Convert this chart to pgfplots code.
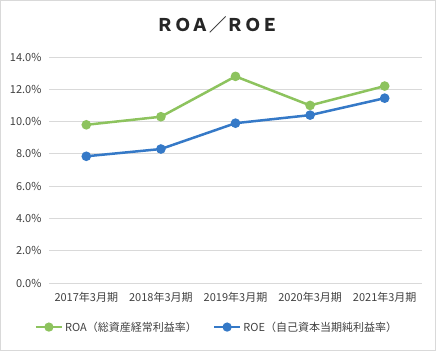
\documentclass[border=0pt]{standalone}
\usepackage{fontspec}
\setmainfont{Noto Sans CJK JP}
\usepackage{pgfplots}
\pgfplotsset{compat=1.18}
\definecolor{roagreen}{HTML}{8DC35E}
\definecolor{roeblue}{HTML}{3579C7}
\definecolor{gridgray}{HTML}{D9D9D9}
\definecolor{txt}{HTML}{404040}
\begin{document}
\begin{tikzpicture}[x=1pt,y=1pt]
\draw[gridgray, line width=1pt] (0.5,0.5) rectangle (435.5,350.5);
\node[font=\fontsize{17.5}{20}\selectfont\bfseries, text=black!85] at (218,326) {ＲＯＡ／ＲＯＥ};
\begin{axis}[
  at={(49pt,68pt)}, anchor=south west,
  scale only axis, width=373pt, height=226pt,
  xmin=-0.5, xmax=4.5, ymin=0, ymax=14,
  xtick={0,1,2,3,4},
  xticklabels={2017年3月期,2018年3月期,2019年3月期,2020年3月期,2021年3月期},
  ytick={0,2,4,6,8,10,12,14},
  yticklabel={\pgfmathprintnumber[fixed,fixed zerofill,precision=1]{\tick}\%},
  /pgf/number format/assume math mode=true,
  ymajorgrids, grid style={gridgray, line width=0.8pt},
  axis line style={draw=none},
  major tick length=0pt,
  tick label style={font=\fontsize{11}{12}\selectfont, text=txt},
  xticklabel style={yshift=-6pt},
  yticklabel style={xshift=-4pt},
  legend columns=2,
  legend style={at={(0.45,-0.195)}, anchor=center, draw=none, fill=none,
    font=\fontsize{11}{12}\selectfont, text=txt,
    /tikz/every even column/.append style={column sep=14pt}},
  legend image code/.code={
    \draw[#1, mark=none] (0pt,0pt) -- (26pt,0pt);
    \fill[#1] (13pt,0pt) circle (3.3pt);
  },
]
\addplot[roagreen, line width=2.5pt, mark=*, mark size=3.5pt] coordinates {
  (0,9.8) (1,10.3) (2,12.8) (3,11.0) (4,12.2)};
\addlegendentry{ROA（総資産経常利益率）}
\addplot[roeblue, line width=2.5pt, mark=*, mark size=3.5pt] coordinates {
  (0,7.85) (1,8.3) (2,9.9) (3,10.4) (4,11.45)};
\addlegendentry{ROE（自己資本当期純利益率）}
\end{axis}
\end{tikzpicture}
\end{document}
